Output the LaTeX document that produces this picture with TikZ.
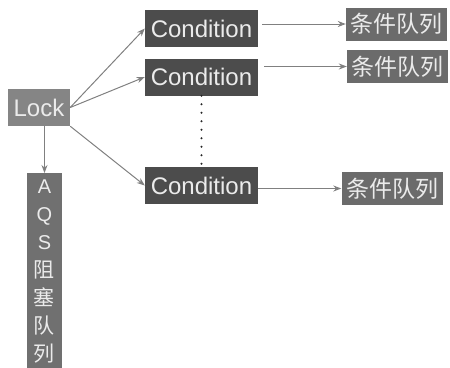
\documentclass[tikz,border=0pt]{standalone}
\usepackage{fontspec}
\setmainfont{Liberation Sans}
\newfontfamily\cjk{Noto Sans CJK SC}
\usetikzlibrary{arrows.meta}
\begin{document}
\begin{tikzpicture}[x=1pt, y=-1pt]
       \tikzstyle{box}=[inner sep=0pt, text=white!92!black, font=\fontsize{24}{28}\selectfont]
       \tikzstyle{locknode}=[box, fill=black!48, minimum width=62pt, minimum height=37pt]
       \tikzstyle{condnode}=[box, fill=black!70, minimum width=113pt, minimum height=37pt]
       \tikzstyle{queuenode}=[box, fill=black!58, minimum width=101pt, minimum height=33pt, font=\cjk\fontsize{23}{26}\selectfont]
       \tikzstyle{aqsnode}=[box, fill=black!56, anchor=north, text width=35pt, align=center, inner ysep=7pt, font=\fontsize{20}{28}\selectfont]
       \tikzstyle{link}=[draw=black!50, line width=1pt, -{Stealth[length=8pt, width=6pt]}]
       \useasboundingbox (0,0) rectangle (450,367);
       \node[locknode] (lock) at (39,107.5) {Lock};
       \node[condnode] (c1) at (201.5,28.5) {Condition};
       \node[condnode] (c2) at (201.5,77) {Condition};
       \node[condnode] (c3) at (201.5,185.5) {Condition};
       \node[queuenode] (q1) at (396.5,24) {条件队列};
       \node[queuenode] (q2) at (397.5,66.5) {条件队列};
       \node[queuenode] (q3) at (392,188.5) {条件队列};
       \node[aqsnode] (aqs) at (44.5,173) {A\\Q\\S\\{\cjk\fontsize{21}{28}\selectfont 阻}\\{\cjk\fontsize{21}{28}\selectfont 塞}\\{\cjk\fontsize{21}{28}\selectfont 队}\\{\cjk\fontsize{21}{28}\selectfont 列}};
       % lock to its conditions and its queue
       \draw[link] (lock.east) -- (c1.west);
       \draw[link] (lock.east) -- (c2.west);
       \draw[link] (lock.south east) -- (c3.west);
       \draw[link] (lock.south -| aqs.north) -- (aqs.north);
       \draw[black!85, line width=2.3pt, line cap=round, dash pattern=on 0pt off 8.5pt] (c2.south) -- (c3.north);
       % each condition has its own queue
       \draw[link, shorten <=4pt] (c1.east |- q1.west) -- (q1.west);
       \draw[link, shorten <=6pt] (c2.east |- q2.west) -- (q2.west);
       \draw[link] (c3.east |- q3.west) -- (q3.west);
\end{tikzpicture}
\end{document}
